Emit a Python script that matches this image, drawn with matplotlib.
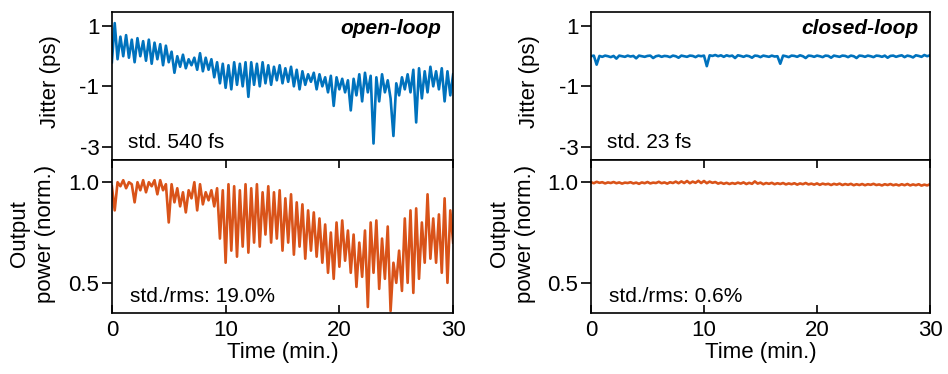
import numpy as np
import matplotlib
matplotlib.use("Agg")
import matplotlib.pyplot as plt
from matplotlib import font_manager

# sample times (min.)
time = np.linspace(0, 30, 121)

jitter_open = [
    -0.2, 1.1, -0.1, 0.65, 0.0, 0.7, -0.05, 0.55,
    -0.2, 0.6, 0.0, 0.5, -0.15, 0.55, -0.25, 0.45,
    -0.1, 0.4, -0.3, 0.35, -0.2, 0.15, -0.55, 0.0,
    -0.35, 0.05, -0.4, -0.1, -0.3, -0.05, -0.45, 0.1,
    -0.5, -0.05, -0.45, -0.1, -0.7, -0.2, -0.9, -0.25,
    -1.05, -0.3, -1.1, -0.2, -0.95, -0.25, -1.0, -0.2,
    -1.35, -0.2, -0.95, -0.25, -1.0, -0.2, -0.9, -0.3,
    -0.95, -0.35, -0.8, -0.3, -0.9, -0.4, -0.85, -0.35,
    -1.0, -0.45, -1.1, -0.5, -0.95, -0.6, -0.85, -0.55,
    -1.1, -0.6, -1.0, -0.7, -1.2, -0.65, -1.65, -0.7,
    -1.1, -0.75, -1.2, -0.8, -1.8, -0.75, -1.3, -0.6,
    -1.5, -0.55, -1.2, -0.65, -2.9, -0.7, -1.5, -0.6,
    -1.2, -0.8, -1.4, -2.65, -0.9, -1.3, -0.7, -1.1,
    -0.6, -1.2, -0.45, -2.2, -0.4, -1.4, -0.5, -1.2,
    -0.35, -1.0, -0.5, -1.1, -0.4, -1.5, -0.5, -1.3,
    -0.6,
]

power_open = [
    0.98, 0.86, 1.0, 0.98, 1.01, 0.97, 1.0, 0.99,
    0.9, 1.0, 0.96, 1.01, 0.95, 1.0, 0.98, 1.01,
    0.94, 1.01, 0.96, 0.99, 0.8, 0.99, 0.9, 0.97,
    0.88, 0.95, 0.85, 0.96, 0.92, 1.0, 0.86, 0.99,
    0.89, 0.95, 0.91, 0.96, 0.88, 0.97, 0.72, 0.96,
    0.6, 0.99, 0.66, 0.98, 0.63, 0.96, 0.68, 0.99,
    0.65, 0.97, 0.7, 0.99, 0.68, 0.95, 0.74, 0.98,
    0.7, 0.95, 0.72, 0.96, 0.66, 0.92, 0.7, 0.94,
    0.64, 0.9, 0.68, 0.89, 0.62, 0.86, 0.66, 0.85,
    0.63, 0.82, 0.6, 0.79, 0.55, 0.75, 0.52, 0.8,
    0.58, 0.81, 0.61, 0.76, 0.55, 0.74, 0.48, 0.7,
    0.53, 0.76, 0.38, 0.8, 0.55, 0.81, 0.47, 0.72,
    0.52, 0.78, 0.36, 0.6, 0.5, 0.66, 0.46, 0.82,
    0.5, 0.86, 0.45, 0.87, 0.52, 0.8, 0.6, 0.94,
    0.62, 0.82, 0.6, 0.84, 0.55, 0.92, 0.5, 0.86,
    0.7,
]

jitter_closed = [
    0.0, 0.02, -0.28, 0.01, -0.02, 0.02, 0.0, -0.03,
    0.01, -0.08, 0.02, 0.0, -0.02, 0.02, -0.01, 0.01,
    -0.07, 0.02, 0.0, -0.02, 0.01, 0.02, -0.06, 0.0,
    0.02, -0.02, 0.01, 0.0, -0.03, 0.02, 0.0, -0.05,
    0.02, 0.0, -0.02, 0.02, 0.01, -0.03, 0.02, 0.0,
    0.02, -0.33, 0.03, 0.01, 0.04, 0.0, 0.03, -0.02,
    0.03, 0.0, 0.02, -0.06, 0.03, 0.01, -0.02, 0.02,
    0.0, -0.05, 0.02, 0.01, -0.03, 0.02, 0.0, -0.02,
    0.02, -0.01, 0.0, -0.25, 0.02, 0.0, -0.03, 0.02,
    0.01, -0.02, 0.03, 0.0, -0.06, 0.02, 0.01, -0.02,
    0.02, 0.0, -0.03, 0.02, 0.01, -0.05, 0.02, 0.0,
    -0.02, 0.02, 0.01, -0.03, 0.02, 0.0, -0.06, 0.02,
    0.01, -0.02, 0.02, 0.0, -0.03, 0.02, 0.01, -0.02,
    0.02, -0.05, 0.01, 0.02, -0.02, 0.01, 0.03, -0.03,
    0.02, 0.0, -0.04, 0.03, 0.01, -0.02, 0.04, 0.0,
    0.03,
]

power_closed = [
    1.0, 0.995, 1.002, 0.997, 1.0, 0.994, 0.999, 0.996,
    1.001, 0.995, 0.999, 0.993, 0.998, 0.996, 1.0, 0.994,
    0.998, 0.992, 0.999, 0.995, 1.001, 0.994, 0.998, 0.996,
    1.002, 0.995, 0.999, 0.993, 1.0, 0.996, 1.003, 0.995,
    1.004, 0.996, 1.006, 0.995, 1.003, 0.997, 1.007, 0.996,
    1.006, 0.995, 1.003, 0.997, 1.001, 0.993, 0.998, 0.992,
    0.997, 0.991, 0.996, 0.992, 0.998, 0.993, 0.999, 0.991,
    0.997, 0.992, 1.004, 0.993, 0.998, 0.99, 0.996, 0.992,
    0.997, 0.99, 0.995, 0.991, 0.996, 0.989, 0.994, 0.99,
    0.995, 0.988, 0.994, 0.99, 0.996, 0.989, 0.993, 0.988,
    0.994, 0.987, 0.993, 0.989, 0.992, 0.986, 0.992, 0.988,
    0.993, 0.986, 0.991, 0.987, 0.992, 0.985, 0.99, 0.986,
    0.991, 0.985, 0.99, 0.987, 0.992, 0.986, 0.989, 0.984,
    0.99, 0.986, 0.991, 0.985, 0.989, 0.984, 0.99, 0.985,
    0.991, 0.984, 0.989, 0.985, 0.99, 0.983, 0.988, 0.984,
    0.99,
]

titles = ["open-loop", "closed-loop"]
jitter_std = ["std. 540 fs", "std. 23 fs"]
power_std = ["std./rms: 19.0%", "std./rms: 0.6%"]

blue = "#0072BD"
orange = "#D95319"

plt.rcParams["font.family"] = ["Liberation Sans", "DejaVu Sans"]
plt.rcParams["axes.linewidth"] = 1.2

names = {f.name for f in font_manager.fontManager.ttflist}
narrow = "Liberation Sans Narrow" if "Liberation Sans Narrow" in names else "Liberation Sans"

fig = plt.figure(figsize=(9.48, 3.74), dpi=100)

lefts = [0.118, 0.6234]
widths = [0.360, 0.3576]
columns = [
    (jitter_open, power_open),
    (jitter_closed, power_closed),
]

for i, (jit, pw) in enumerate(columns):
    ax1 = fig.add_axes([lefts[i], 0.572, widths[i], 0.396])
    ax2 = fig.add_axes([lefts[i], 0.163, widths[i], 0.409])

    ax1.plot(time, jit, color=blue, lw=1.9)
    ax2.plot(time, pw, color=orange, lw=1.9)

    ax1.set_xlim(0, 30)
    ax2.set_xlim(0, 30)
    ax1.set_ylim(-3.45, 1.47)
    ax2.set_ylim(0.35, 1.11)

    ax1.set_yticks([1, -1, -3])
    ax1.set_yticklabels(["1", "-1", "-3"])
    ax2.set_yticks([1.0, 0.5])
    ax2.set_yticklabels(["1.0", "0.5"])

    ax1.set_xticks([])
    ax2.set_xticks([0, 10, 20, 30])
    ax2.set_xticklabels(["0", "10", "20", "30"], fontfamily=narrow, fontsize=16)

    for ax in (ax1, ax2):
        ax.tick_params(axis="y", direction="out", length=7, width=1.2,
                       labelsize=16, pad=2)
    ax2.tick_params(axis="x", direction="in", length=6, width=1.2,
                    top=True, pad=5)

    ax1.set_ylabel("Jitter (ps)", fontsize=16, va="center", ha="center")
    ax1.yaxis.set_label_coords(-0.18, 0.53)
    ax2.set_ylabel("Output\npower (norm.)", fontsize=16, va="center",
                   ha="center", linespacing=1.35)
    ax2.yaxis.set_label_coords(-0.232, 0.52)
    ax2.set_xlabel("Time (min.)", fontsize=16, fontfamily=narrow, labelpad=1)

    ax1.text(0.965, 0.89, titles[i], transform=ax1.transAxes, ha="right",
             va="center", fontsize=15, fontweight="bold", fontstyle="italic")
    ax1.text(0.047, 0.12, jitter_std[i], transform=ax1.transAxes, ha="left",
             va="center", fontsize=15)
    ax2.text(0.053, 0.105, power_std[i], transform=ax2.transAxes, ha="left",
             va="center", fontsize=15)

fig.savefig("out.png", dpi=100)
